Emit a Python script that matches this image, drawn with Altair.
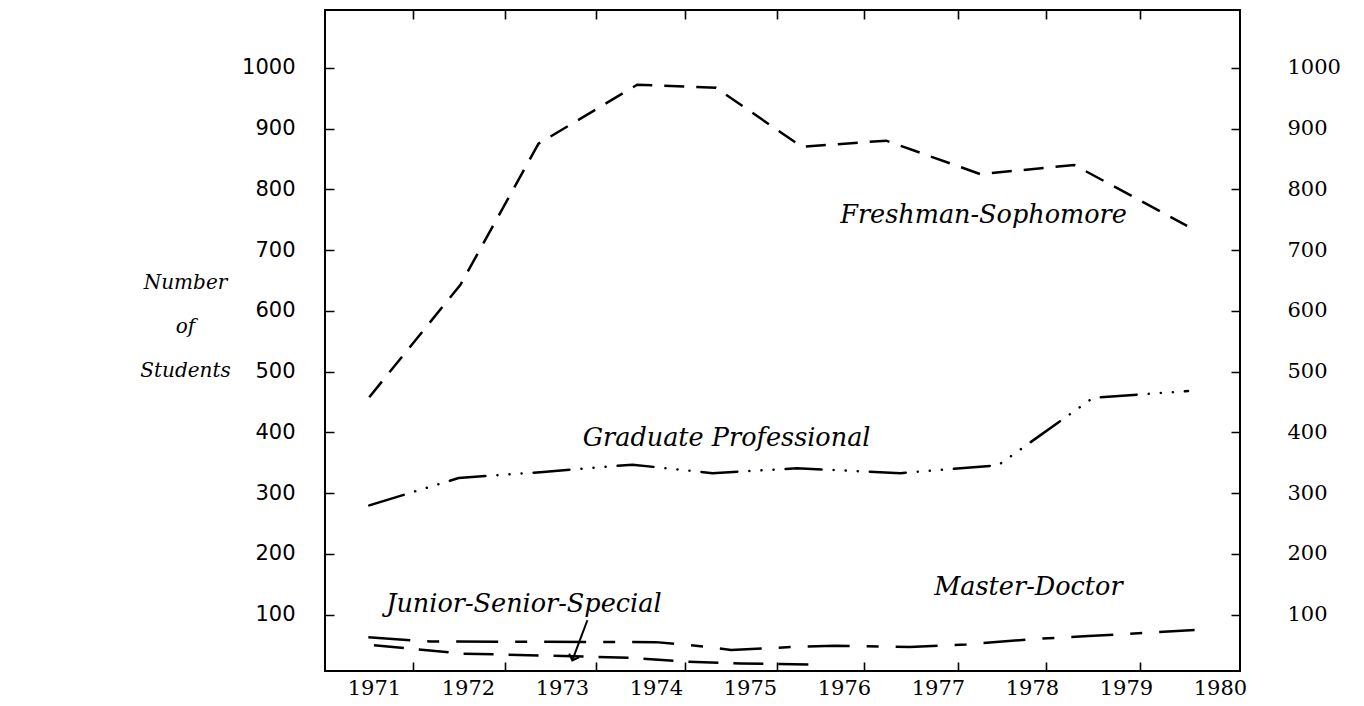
import altair as alt
import pandas as pd

# ---------------- data ----------------
year_labels = [1971, 1972, 1973, 1974, 1975, 1976, 1977, 1978, 1979, 1980]
tick_marks_x = [1971.41, 1972.39, 1973.36, 1974.31, 1975.29, 1976.21, 1977.21, 1978.15, 1979.15]
y_values = [100, 200, 300, 400, 500, 600, 700, 800, 900, 1000]

fresh_x = [1970.95, 1971.92, 1972.75, 1973.8, 1974.64, 1975.55, 1976.45, 1977.45, 1978.45, 1979.65]
fresh_y = [458, 643, 875, 972, 967, 870, 880, 825, 840, 740]

grad_x = [1970.95, 1971.9, 1972.8, 1973.75, 1974.6, 1975.5, 1976.6, 1977.64, 1978.65, 1979.66]
grad_y = [280, 325, 335, 347, 333, 341, 333, 346, 457, 468]

master_x = [1970.94, 1971.6, 1974.0, 1974.5, 1974.8, 1975.45, 1975.9, 1976.7, 1977.3, 1978.0, 1978.6, 1979.73]
master_y = [63, 56, 55, 48, 42, 47, 49, 47, 51, 60, 65, 75]

junior_x = [1971.0, 1971.95, 1972.8, 1973.75, 1974.3, 1974.9, 1975.74]
junior_y = [50, 36, 33, 29, 23, 20, 18]

label_text = ["Freshman-Sophomore", "Graduate Professional", "Master-Doctor", "Junior-Senior-Special"]
label_x = [1975.96, 1973.22, 1976.96, 1971.13]
label_y = [758, 391, 146, 118]

arrow_x = [1973.27, 1973.11]
arrow_y = [91, 25]

# ---------------- scales ----------------
W, H = 915, 661
xs = alt.Scale(domain=[1970.479, 1980.213], nice=False, zero=False)
ys = alt.Scale(domain=[7.5, 1095], nice=False, zero=False)


def series(xv, yv):
    return pd.DataFrame({"x": xv, "y": yv})


x_bottom = alt.X("x:Q", scale=xs, axis=alt.Axis(
    values=year_labels, format="d", orient="bottom", domain=False, ticks=False, tickSize=0,
    grid=False, labelFont="DejaVu Serif", labelFontSize=21, labelColor="black",
    labelPadding=6, title=None, labelFlush=False))
y_left = alt.Y("y:Q", scale=ys, axis=alt.Axis(
    values=y_values, format="d", orient="left", domain=False, ticks=False, tickSize=0, grid=False,
    labelFont="DejaVu Sans", labelFontSize=21, labelColor="black", labelPadding=30,
    title=["Number", "of", "Students"], titleAngle=0, titleFont="DejaVu Serif",
    titleFontStyle="italic", titleFontWeight="normal", titleFontSize=20,
    titleLineHeight=44, titleAlign="center", titleBaseline="top",
    titleX=-140, titleY=262, titleColor="black"))

x_top = alt.X("x:Q", scale=xs, axis=alt.Axis(
    values=tick_marks_x, orient="top", domain=False, ticks=False, tickSize=0, labels=False,
    grid=True, gridColor="black", gridWidth=1.6, gridOpacity=1,
    gridDash=[9, H - 18, 9, 3000], title=None))
y_right = alt.Y("y:Q", scale=ys, axis=alt.Axis(
    values=y_values, format="d", orient="right", domain=False, ticks=False, tickSize=0,
    grid=True, gridColor="black", gridWidth=1.6, gridOpacity=1,
    gridDash=[9, W - 18, 9, 3000],
    labelFont="DejaVu Serif", labelFontSize=21, labelColor="black", labelPadding=47,
    title=None))

x_plain = alt.X("x:Q", scale=xs, axis=None)
y_plain = alt.Y("y:Q", scale=ys, axis=None)

common = dict(strokeWidth=2.5, color="black", strokeCap="butt")

fresh = alt.Chart(series(fresh_x, fresh_y)).mark_line(strokeDash=[20, 12], **common).encode(
    x=x_bottom, y=y_left, order="x:Q")
grad = alt.Chart(series(grad_x, grad_y)).mark_line(
    strokeDash=[36, 12, 0.1, 12, 0.1, 12, 0.1, 12], **{**common, "strokeCap": "round"}).encode(
    x=x_plain, y=y_plain, order="x:Q")
master = alt.Chart(series(master_x, master_y)).mark_line(strokeDash=[42, 17, 12, 17], **common).encode(
    x=x_plain, y=y_plain, order="x:Q")
junior = alt.Chart(series(junior_x, junior_y)).mark_line(strokeDash=[30, 15], **common).encode(
    x=x_plain, y=y_plain, order="x:Q")

labels = alt.Chart(pd.DataFrame({"t": label_text, "x": label_x, "y": label_y})).mark_text(
    font="DejaVu Serif", fontStyle="italic", fontSize=25.5, align="left", baseline="middle",
    color="black").encode(x=x_top, y=y_right, text="t:N")

arrow_df = pd.DataFrame({"x": arrow_x, "y": arrow_y, "o": [0, 1]})
arrow_line = alt.Chart(arrow_df).mark_line(color="black", strokeWidth=2).encode(
    x=x_plain, y=y_plain, order="o:Q")
arrow_head = alt.Chart(arrow_df.iloc[[1]]).mark_point(
    shape="M-1,-1L0,0L1,-1", size=110, filled=False, color="black", strokeWidth=2,
    angle=20, opacity=1).encode(x=x_plain, y=y_plain)

chart = alt.layer(fresh, labels, grad, master, junior, arrow_line, arrow_head).properties(
    width=W, height=H,
    background="white",
    autosize=alt.AutoSizeParams(type="none"),
    padding={"left": 317, "top": 2, "right": 116, "bottom": 27},
).configure_view(stroke="black", strokeWidth=2)

chart.save("out.html", embed_options={"renderer": "svg", "actions": False})
